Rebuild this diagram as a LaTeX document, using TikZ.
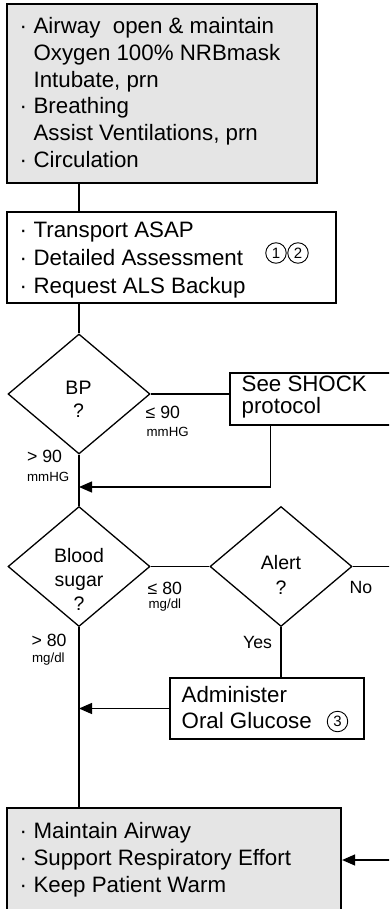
\documentclass[tikz,border=0pt]{standalone}
\usepackage{fontspec}
\setmainfont{Liberation Sans}
\usetikzlibrary{shapes.geometric,arrows.meta}
\newcommand\bul{·\hspace{6.6pt}}
\newcommand\ind{\hphantom{\bul}}
\newcommand\bfs[1]{\fontsize{22.3}{#1}\selectfont}
\newcommand\dfs[1]{\fontsize{19.5}{#1}\selectfont}

\begin{document}
\begin{tikzpicture}
  [x=1pt,y=-1pt,line width=1.3pt,
   box/.style={draw,rectangle,inner sep=0pt,line width=1.3pt},
   graybox/.style={box,fill=gray!20,line width=2.2pt},
   decision/.style={draw,diamond,aspect=1.2,inner sep=0pt,line width=1.3pt,
     minimum width=142pt,minimum height=120pt},
   txt/.style={anchor=north west,inner sep=0pt,align=left},
   dtxt/.style={anchor=north,inner sep=0pt,align=center},
   lbl/.style={anchor=base west,inner sep=0pt,font=\fontsize{17.7}{20}\selectfont},
   unit/.style={anchor=base west,inner sep=0pt,font=\fontsize{13.3}{15}\selectfont},
   num/.style={draw,circle,minimum size=20.5pt,inner sep=0pt,line width=0.9pt,
     font=\fontsize{15}{17}\selectfont},
   arr/.style={-{Triangle[length=13pt,width=11pt]}}]
  \useasboundingbox (0,0) rectangle (389,909);
  \clip (0,0) rectangle (389,909);

  \node[graybox,minimum width=310pt,minimum height=179pt] (abc) at (162,93.5) {};
  \node[box,minimum width=329pt,minimum height=91pt] (trans) at (171.5,257.5) {};
  \node[box,minimum width=200pt,minimum height=52pt] (shock) at (330,399) {};
  \node[box,minimum width=194pt,minimum height=61pt] (gluc) at (267,708.5) {};
  \node[graybox,minimum width=334pt,minimum height=104pt] (care) at (174,860) {};

  \node[decision] (bp) at (79,394) {};
  \node[decision] (sugar) at (79,566.5) {};
  \node[decision] (alert) at (281,566.5) {};

  \node[txt,font={\bfs{26.7}}] (abctxt) at (18.9,17)
    {\bul Airway\ \ open \& maintain\\ \ind Oxygen 100\% NRBmask\\ \ind Intubate, prn\\
     \bul Breathing\\ \ind Assist Ventilations, prn\\ \bul Circulation};
  \node[txt,font={\bfs{28}}] (transtxt) at (18.9,221.4)
    {\bul Transport ASAP\\ \bul Detailed Assessment\\ \bul Request ALS Backup};
  \node[num] (n1) at (276,253) {1};
  \node[num] (n2) at (298,253) {2};
  \node[txt,font={\bfs{22.5}}] (shocktxt) at (241,375.2) {See SHOCK\\protocol};
  \node[txt,font={\bfs{26}}] (gluctxt) at (181,685.7) {Administer\\Oral Glucose};
  \node[num] (n3) at (337.5,721.5) {3};
  \node[txt,font={\bfs{27}}] (caretxt) at (18.9,821.7)
    {\bul Maintain Airway\\ \bul Support Respiratory Effort\\ \bul Keep Patient Warm};

  \node[dtxt,font={\dfs{22.7}}] (bptxt) at (78.5,380.8) {BP\\?};
  \node[dtxt,font={\dfs{24}}] (sugartxt) at (79,547.8) {Blood\\sugar\\?};
  \node[dtxt,font={\dfs{25}}] (alerttxt) at (281,554.3) {Alert\\?};

  \node[lbl] (le90) at (145,418) {≤ 90};
  \node[unit] (le90u) at (146,436) {mmHG};
  \node[lbl] (gt90) at (26.5,462.7) {> 90};
  \node[unit] (gt90u) at (26.5,481) {mmHG};
  \node[lbl] (le80) at (147,594) {≤ 80};
  \node[unit] (le80u) at (148,608) {mg/dl};
  \node[lbl] (gt80) at (31,646) {> 80};
  \node[unit] (gt80u) at (31.5,662) {mg/dl};
  \node[lbl] (yes) at (242.5,648) {Yes};
  \node[lbl] (no) at (349,593) {No};

  \coordinate (j1) at (79,487);

  \draw (abc.south -| bp) -- (trans.north -| bp);
  \foreach \from/\to in {trans.south -| bp/bp.north,bp.south/sugar.north,
      sugar.east/alert.west,bp.east/bp.east -| shock.west,
      alert.south/alert.south |- gluc.north,sugar.south/sugar.south |- care.north}
    \draw (\from) -- (\to);

  \draw[arr] ([xshift=41pt]shock.south west) |- (j1);
  \draw[arr] (gluc.west) -- (gluc.west -| sugar.south);
  \draw[arr] (alert.east) -- ++(60,0) |- (care.east);

\end{tikzpicture}
\end{document}
